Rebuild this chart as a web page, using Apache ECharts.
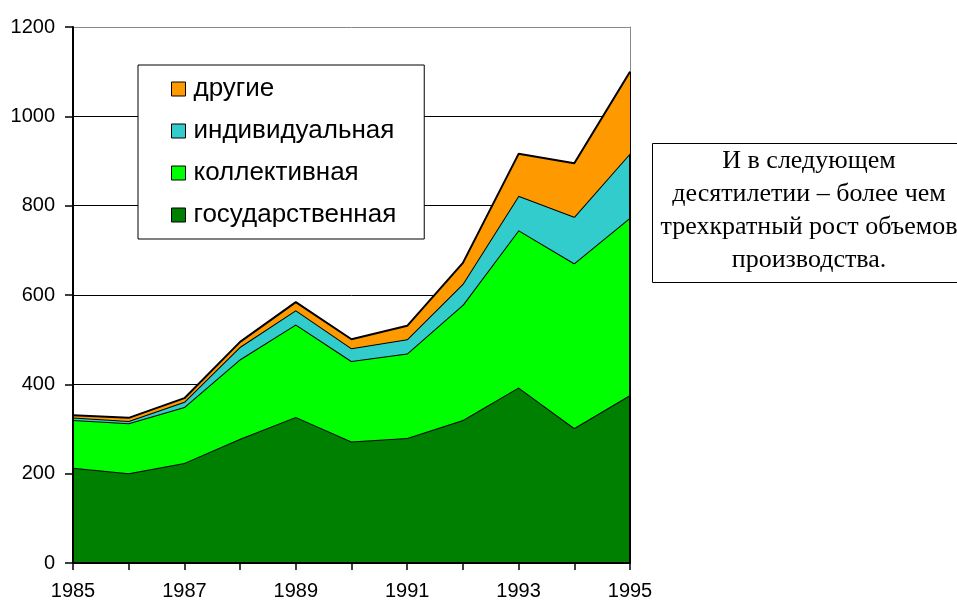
<!DOCTYPE html>
<html>
<head>
<meta charset="utf-8">
<script src="https://cdn.jsdelivr.net/npm/echarts@6/dist/echarts.min.js"></script>
<style>html,body{margin:0;padding:0;background:#fff}#c{width:957px;height:603px}</style>
</head>
<body>
<div id="c"></div>
<script>
const years = ['1985','1986','1987','1988','1989','1990','1991','1992','1993','1994','1995'];
const gos   = [213, 201, 224, 278, 327, 272, 280, 320, 393, 302, 376];
const kol   = [107, 112, 125, 178, 207, 180, 189, 258, 352, 369, 397];
const ind   = [6, 5, 12, 28, 32, 29, 32, 47, 77, 104, 144];
const other = [5, 7, 8, 11, 18, 20, 30, 47, 94, 120, 183];
const seriesNames = ['государственная', 'коллективная', 'индивидуальная', 'другие'];
const seriesColors = ['#008000', '#00FF00', '#33CCCC', '#FF9900'];
const yTicks = {min: 0, max: 1200, interval: 200};
const noteLines = ['И в следующем', 'десятилетии – более чем', 'трехкратный рост объемов', 'производства.'];

const chart = echarts.init(document.getElementById('c'), null, {renderer: 'canvas'});
const values = [gos, kol, ind, other];
const last = years.length - 1;
const lastTotal = values.reduce((s, a) => s + a[last], 0);

const series = values.map((arr, i) => ({
  name: seriesNames[i],
  type: 'line',
  stack: 'total',
  data: arr,
  symbol: 'none',
  yAxisIndex: 0,
  lineStyle: {color: '#000', width: 2},
  itemStyle: {color: seriesColors[i], borderColor: '#000', borderWidth: 1},
  areaStyle: {color: seriesColors[i], opacity: 1},
  z: 2 + i,
  animation: false
}));
series[3].markLine = {
  silent: true, symbol: 'none', animation: false,
  label: {show: false},
  lineStyle: {color: '#000', width: 2, type: 'solid'},
  data: [[{coord: [years[last], 0]}, {coord: [years[last], lastTotal]}]]
};

const axisFont = {fontFamily: '"Liberation Sans", Arial, sans-serif', fontSize: 20, color: '#000'};

chart.setOption({
  animation: false,
  backgroundColor: '#fff',
  grid: {left: 73, right: 327, top: 27, bottom: 40, containLabel: false},
  legend: {
    orient: 'vertical',
    left: 138, top: 65,
    data: seriesNames.slice().reverse(),
    icon: 'rect',
    itemWidth: 14, itemHeight: 14,
    itemGap: 16,
    padding: [11, 28, 11, 33],
    borderColor: '#000', borderWidth: 1,
    backgroundColor: '#fff',
    itemStyle: {borderColor: '#000', borderWidth: 1},
    textStyle: {fontFamily: '"Liberation Sans", Arial, sans-serif', fontSize: 26, color: '#000', padding: [0, 0, 0, 3]},
    selectedMode: false
  },
  xAxis: [{
    type: 'category', data: years, boundaryGap: false, z: 10,
    axisLine: {lineStyle: {color: '#000', width: 2}},
    axisTick: {show: true, interval: 0, length: 7, lineStyle: {color: '#000', width: 1.5}},
    axisLabel: Object.assign({interval: 1, margin: 18}, axisFont),
    splitLine: {show: false}
  }],
  yAxis: [{
    type: 'value', min: yTicks.min, max: yTicks.max, interval: yTicks.interval, z: 0,
    axisLine: {show: false}, axisTick: {show: false}, axisLabel: {show: false},
    splitLine: {show: true, lineStyle: {color: ['#000', '#000', '#000', '#000', '#000', '#000', '#888'], width: 1}}
  }, {
    type: 'value', min: yTicks.min, max: yTicks.max, interval: yTicks.interval, z: 10, position: 'left',
    axisLine: {show: true, lineStyle: {color: '#000', width: 2}},
    axisTick: {show: true, length: 8, lineStyle: {color: '#000', width: 1.5}},
    axisLabel: Object.assign({margin: 18, formatter: v => String(v)}, axisFont),
    splitLine: {show: false}
  }, {
    type: 'value', min: yTicks.min, max: yTicks.max, interval: yTicks.interval, z: 0, position: 'right',
    axisLine: {show: true, lineStyle: {color: '#888', width: 1}},
    axisTick: {show: false}, axisLabel: {show: false}, splitLine: {show: false}
  }],
  graphic: [{
    type: 'rect', left: 652, top: 143, z: 20,
    shape: {width: 314, height: 139},
    style: {fill: '#fff', stroke: '#000', lineWidth: 1}
  }, {
    type: 'text', x: 809, y: 145, z: 21,
    style: {
      text: noteLines.join('\n'),
      font: '26px "Liberation Serif", "Times New Roman", serif',
      fill: '#000', align: 'center', verticalAlign: 'top', lineHeight: 33
    }
  }],
  series: series
});
</script>
</body>
</html>
